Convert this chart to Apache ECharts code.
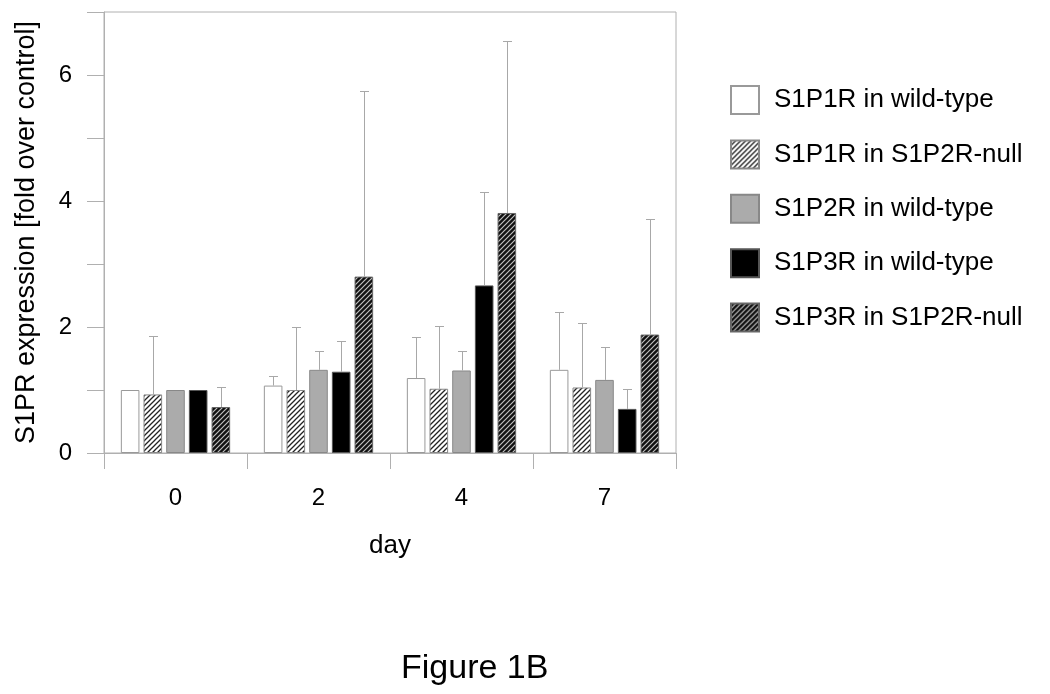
<!DOCTYPE html>
<html>
<head>
<meta charset="utf-8">
<script src="https://cdn.jsdelivr.net/npm/echarts@6/dist/echarts.min.js"></script>
<style>
html,body{margin:0;padding:0;background:#fff;}
#chart{width:1050px;height:694px;}
</style>
</head>
<body>
<div id="chart"></div>
<script>
// ---- data ----
const days = ['0', '2', '4', '7'];
const seriesNames = ['S1P1R in wild-type', 'S1P1R in S1P2R-null', 'S1P2R in wild-type', 'S1P3R in wild-type', 'S1P3R in S1P2R-null'];
const s1p1rWT    = [1.00, 1.07, 1.19, 1.32];
const s1p1rNull  = [0.93, 1.00, 1.02, 1.04];
const s1p2rWT    = [1.00, 1.32, 1.31, 1.16];
const s1p3rWT    = [1.00, 1.29, 2.66, 0.70];
const s1p3rNull  = [0.73, 2.80, 3.81, 1.88];
// standard deviations (upper error bars)
const s1p1rWTsd   = [0.00, 0.15, 0.65, 0.92];
const s1p1rNullSd = [0.93, 1.00, 0.99, 1.03];
const s1p2rWTsd   = [0.00, 0.30, 0.31, 0.53];
const s1p3rWTsd   = [0.00, 0.49, 1.49, 0.32];
const s1p3rNullSd = [0.32, 2.94, 2.73, 1.83];
const yTicks = [0, 2, 4, 6];

const means = [s1p1rWT, s1p1rNull, s1p2rWT, s1p3rWT, s1p3rNull];
const sds = [s1p1rWTsd, s1p1rNullSd, s1p2rWTsd, s1p3rWTsd, s1p3rNullSd];

function hatch(bg, fg, lw) {
  const s = 5;
  const c = document.createElement('canvas');
  c.width = s; c.height = s;
  const g = c.getContext('2d');
  g.fillStyle = bg; g.fillRect(0, 0, s, s);
  g.strokeStyle = fg; g.lineWidth = lw;
  g.beginPath();
  g.moveTo(0, s); g.lineTo(s, 0);
  g.moveTo(-1, 1); g.lineTo(1, -1);
  g.moveTo(s - 1, s + 1); g.lineTo(s + 1, s - 1);
  g.stroke();
  return c;
}
const lightHatch = { image: hatch('#ffffff', '#222222', 1.3), repeat: 'repeat' };
const darkHatch = { image: hatch('#111111', '#c0c0c0', 1.2), repeat: 'repeat' };

const styles = [
  { color: '#ffffff', borderColor: '#999999', borderWidth: 1 },
  { color: lightHatch, borderColor: '#888888', borderWidth: 1 },
  { color: '#ababab', borderColor: '#888888', borderWidth: 1 },
  { color: '#000000', borderColor: '#555555', borderWidth: 1 },
  { color: darkHatch, borderColor: '#666666', borderWidth: 1 }
];

const BAR_W = 0.13, BAR_GAP = 0.22;
const FONT = '"Liberation Sans", Arial, sans-serif';

const series = [];
means.forEach((m, i) => {
  series.push({
    name: seriesNames[i],
    type: 'bar',
    data: m,
    barWidth: (BAR_W * 100) + '%',
    barGap: (BAR_GAP * 100) + '%',
    itemStyle: styles[i],
    emphasis: { disabled: true },
    z: 2
  });
});
means.forEach((m, i) => {
  series.push({
    name: 'err' + i,
    type: 'custom',
    data: m.map((v, j) => [j, v, v + sds[i][j]]),
    encode: { x: 0, y: 1 },
    z: 3,
    silent: true,
    renderItem: function (params, api) {
      const j = api.value(0), mean = api.value(1), up = api.value(2);
      if (up <= mean + 1e-9) return;
      const p0 = api.coord([j, mean]);
      const p1 = api.coord([j, up]);
      const catW = api.size([1, 0])[0];
      const pitch = catW * BAR_W * (1 + BAR_GAP);
      const x = Math.round(p0[0] + (i - 2) * pitch) + 0.5;
      const y0 = p0[1], y1 = Math.round(p1[1]) + 0.5;
      const st = { stroke: '#a8a8a8', lineWidth: 1 };
      return {
        type: 'group',
        children: [
          { type: 'line', shape: { x1: x, y1: y0, x2: x, y2: y1 }, style: st },
          { type: 'line', shape: { x1: x - 4.5, y1: y1, x2: x + 4.5, y2: y1 }, style: st }
        ]
      };
    }
  });
});

const chart = echarts.init(document.getElementById('chart'), null, { renderer: 'canvas' });
chart.setOption({
  animation: false,
  backgroundColor: '#ffffff',
  textStyle: { fontFamily: FONT },
  title: {
    text: 'Figure 1B',
    left: 396,
    top: 647,
    textStyle: { fontFamily: FONT, fontSize: 34, fontWeight: 'normal', color: '#000' }
  },
  grid: {
    left: 104, right: 374, top: 12, bottom: 241,
    show: true, borderColor: '#b0b0b0', borderWidth: 1, backgroundColor: 'transparent'
  },
  legend: {
    data: seriesNames,
    orient: 'vertical',
    left: 725,
    top: 80,
    itemWidth: 28,
    itemHeight: 28,
    itemGap: 24.4,
    icon: 'rect',
    selectedMode: false,
    textStyle: { fontFamily: FONT, fontSize: 26, color: '#000', padding: [0, 0, 0, 10] }
  },
  xAxis: {
    type: 'category',
    data: days,
    name: 'day',
    nameLocation: 'middle',
    nameGap: 80,
    nameTextStyle: { fontFamily: FONT, fontSize: 26, color: '#000' },
    axisLine: { lineStyle: { color: '#b0b0b0', width: 1 } },
    axisTick: { show: true, length: 16, alignWithLabel: false, lineStyle: { color: '#b0b0b0' } },
    axisLabel: { fontFamily: FONT, fontSize: 24, color: '#000', margin: 33 },
    splitLine: { show: false }
  },
  yAxis: {
    type: 'value',
    min: 0, max: 7, interval: 1,
    name: 'S1PR expression [fold over control]',
    nameLocation: 'middle',
    nameGap: 64,
    nameTextStyle: { fontFamily: FONT, fontSize: 27, color: '#000' },
    axisLine: { show: true, lineStyle: { color: '#b0b0b0', width: 1 } },
    axisTick: { show: true, length: 17, lineStyle: { color: '#b0b0b0' } },
    axisLabel: {
      fontFamily: FONT, fontSize: 24, color: '#000', margin: 32,
      formatter: v => (yTicks.indexOf(v) >= 0 ? String(v) : '')
    },
    splitLine: { show: false }
  },
  series: series
});
</script>
</body>
</html>
